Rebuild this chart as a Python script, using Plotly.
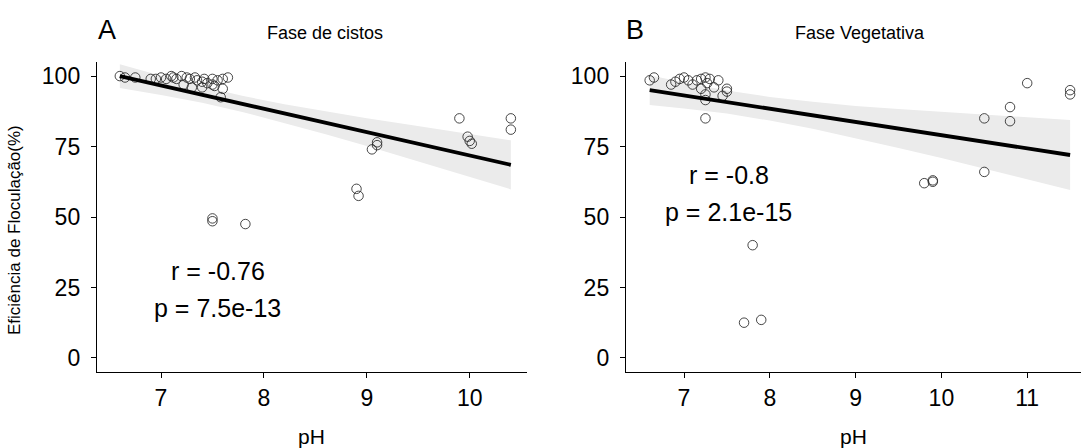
import plotly.graph_objects as go

# ---------------- data ----------------
# Panel A: Fase de cistos
ph_a = [6.6, 6.65, 6.75, 6.9, 6.95, 7.0, 7.05, 7.1, 7.12, 7.15, 7.2, 7.22, 7.25, 7.28, 7.3,
        7.33, 7.35, 7.4, 7.4, 7.42, 7.45, 7.5, 7.5, 7.52, 7.55, 7.58, 7.6, 7.6, 7.65,
        7.5, 7.5, 7.82, 8.9, 8.92, 9.05, 9.1, 9.1, 9.9, 9.98, 10.0, 10.02, 10.4, 10.4]
ef_a = [100, 99.5, 99.5, 99, 99, 99.5, 99, 100, 99.5, 99, 100, 97, 99.5, 99, 96,
        99.5, 98.5, 98, 96, 99, 97.5, 97, 99, 96.5, 98.5, 92.5, 99, 95.5, 99.5,
        49.5, 48.5, 47.5, 60, 57.5, 74, 75.5, 76.5, 85, 78.5, 77, 76, 85, 81]
fit_x_a = [6.6, 7.0, 7.4, 7.8, 8.2, 8.6, 9.0, 9.4, 9.8, 10.1, 10.4]
fit_y_a = [100.0, 96.7, 93.4, 90.1, 86.7, 83.4, 80.1, 76.8, 73.5, 71.0, 68.5]
fit_hi_a = [104.2, 100.1, 96.3, 92.9, 90.0, 87.4, 85.0, 82.8, 80.5, 78.9, 77.2]
fit_lo_a = [95.8, 93.3, 90.5, 87.2, 83.4, 79.4, 75.2, 70.8, 66.5, 63.1, 59.8]

# Panel B: Fase Vegetativa
ph_b = [6.6, 6.65, 6.85, 6.9, 6.95, 7.0, 7.05, 7.1, 7.15, 7.2, 7.2, 7.25, 7.25, 7.25, 7.27,
        7.3, 7.35, 7.4, 7.45, 7.5, 7.5, 7.25, 7.7, 7.8, 7.9, 9.8, 9.9, 9.9, 10.5, 10.5,
        10.8, 10.8, 11.0, 11.5, 11.5]
ef_b = [98.5, 99.5, 97, 98, 99, 99.5, 98.5, 97, 98.5, 95.5, 99, 99.5, 93.5, 91.5, 97.5,
        99, 96, 98.5, 93, 94.5, 95.5, 85, 12.5, 40, 13.5, 62, 62.5, 63, 85, 66,
        89, 84, 97.5, 95, 93.5]
fit_x_b = [6.6, 7.0, 7.5, 8.0, 8.5, 9.0, 9.5, 10.0, 10.5, 11.0, 11.5]
fit_y_b = [95.0, 93.1, 90.8, 88.4, 86.1, 83.7, 81.4, 79.1, 76.7, 74.4, 72.0]
fit_hi_b = [100.3, 97.7, 94.9, 92.6, 90.9, 89.4, 88.3, 87.3, 86.2, 85.4, 84.4]
fit_lo_b = [89.7, 88.5, 86.7, 84.2, 81.3, 78.0, 74.5, 70.9, 67.2, 63.4, 59.6]

y_ticks = [0, 25, 50, 75, 100]
x_ticks_a = [7, 8, 9, 10]
x_ticks_b = [7, 8, 9, 10, 11]

FONT = "Liberation Sans, Arial, sans-serif"
W, H = 1081, 448

fig = go.Figure()


def add_panel(xs, ys, fx, fy, fhi, flo, xa, ya):
    fig.add_trace(go.Scatter(x=fx + fx[::-1], y=fhi + flo[::-1], fill="toself",
                             fillcolor="#ebebeb", line=dict(width=0), mode="lines",
                             hoverinfo="skip", showlegend=False, xaxis=xa, yaxis=ya))
    fig.add_trace(go.Scatter(x=xs, y=ys, mode="markers",
                             marker=dict(symbol="circle-open", size=9.5,
                                         color="rgba(40,40,40,0.85)", line=dict(width=1)),
                             showlegend=False, xaxis=xa, yaxis=ya))
    fig.add_trace(go.Scatter(x=fx, y=fy, mode="lines", line=dict(color="black", width=3.8),
                             showlegend=False, xaxis=xa, yaxis=ya))


add_panel(ph_a, ef_a, fit_x_a, fit_y_a, fit_hi_a, fit_lo_a, "x", "y")
add_panel(ph_b, ef_b, fit_x_b, fit_y_b, fit_hi_b, fit_lo_b, "x2", "y2")

ydom = [(H - 372) / H, (H - 62) / H]
axis_common = dict(showgrid=False, zeroline=False, showline=True, linecolor="black",
                   linewidth=1.4, ticks="outside", ticklen=5, tickwidth=1.4,
                   tickcolor="black", tickfont=dict(family=FONT, size=23, color="black"))
xstyle = dict(axis_common, ticklabelstandoff=0)
ystyle = dict(axis_common, ticklabelstandoff=6)

fig.update_layout(
    width=W, height=H, margin=dict(l=0, r=0, t=0, b=0),
    paper_bgcolor="white", plot_bgcolor="white",
    xaxis=dict(domain=[97 / W, 527 / W], range=[6.378, 10.557], tickvals=x_ticks_a,
               anchor="y", **xstyle),
    yaxis=dict(domain=ydom, range=[-5, 105], tickvals=y_ticks, anchor="x", **ystyle),
    xaxis2=dict(domain=[626 / W, 1.0], range=[6.324, 11.627], tickvals=x_ticks_b,
                anchor="y2", **xstyle),
    yaxis2=dict(domain=ydom, range=[-5, 105], tickvals=y_ticks, anchor="x2", **ystyle),
)

ann = []
def txt(x, y, s, size, xref="paper", yref="paper", xanchor="center", yanchor="middle", angle=0):
    ann.append(dict(x=x, y=y, text=s, xref=xref, yref=yref, showarrow=False,
                    xanchor=xanchor, yanchor=yanchor, textangle=angle,
                    font=dict(family=FONT, size=size, color="black")))

# panel letters and titles
txt(107 / W, 1 - 30 / H, "A", 27)
txt(635 / W, 1 - 30 / H, "B", 27)
txt(325 / W, 1 - 33 / H, "Fase de cistos", 18)
txt(860 / W, 1 - 33 / H, "Fase Vegetativa", 18)
# axis titles
txt(311 / W, 1 - 436 / H, "pH", 21)
txt(853 / W, 1 - 436 / H, "pH", 21)
txt(15 / W, 1 - 230 / H, "Eficiência de Floculação(%)", 17, angle=-90)
# correlation labels
txt(7.55, 30.9, "r = -0.76", 25, xref="x", yref="y")
txt(7.55, 17.7, "p = 7.5e-13", 25, xref="x", yref="y")
txt(7.52, 65.0, "r = -0.8", 25, xref="x2", yref="y2")
txt(7.52, 51.8, "p = 2.1e-15", 25, xref="x2", yref="y2")
fig.update_layout(annotations=ann)

fig.write_html("out.html")
